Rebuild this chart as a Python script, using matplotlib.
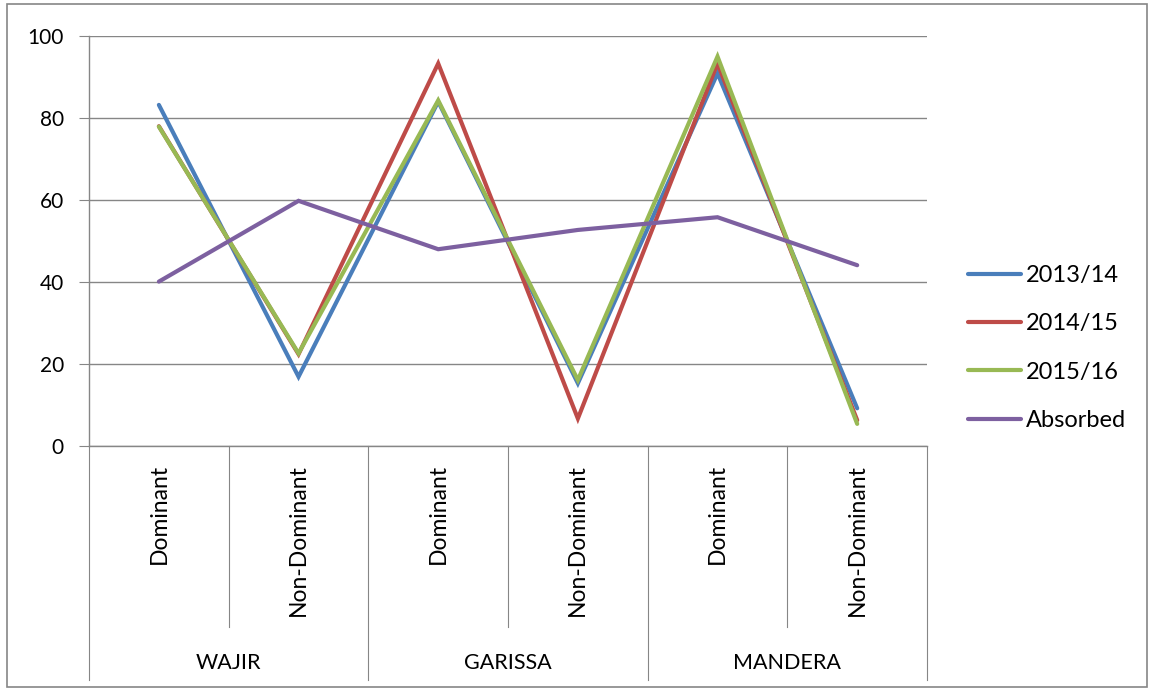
import matplotlib.pyplot as plt
from matplotlib.patches import Rectangle
from matplotlib.transforms import blended_transform_factory

# Counties and household types on the category axis
counties = ['WAJIR', 'GARISSA', 'MANDERA']
types = ['Dominant', 'Non-Dominant']
tick_labels = [t for c in counties for t in types]

# Percentages per season
s_2013 = [83.2, 16.9, 84.0, 15.3, 90.9, 9.2]
s_2014 = [78.0, 22.4, 93.3, 6.7, 93.3, 6.3]
s_2015 = [77.9, 22.6, 84.3, 16.1, 95.0, 5.4]
absorbed = [40.1, 59.8, 48.0, 52.7, 55.8, 44.1]

series = [
    ('2013/14', s_2013, '#4A7EBB'),
    ('2014/15', s_2014, '#BE4B48'),
    ('2015/16', s_2015, '#98B954'),
    ('Absorbed', absorbed, '#7D60A0'),
]

plt.rcParams['font.family'] = ['Lato', 'DejaVu Sans']
grey = '#868686'

fig = plt.figure(figsize=(11.52, 6.9), dpi=100)
ax = fig.add_axes([0.0773, 0.3536, 0.7274, 0.5942])

x = list(range(len(tick_labels)))
for name, vals, col in series:
    ax.plot(x, vals, color=col, lw=3.0, label=name,
            solid_capstyle='round', solid_joinstyle='miter')

ax.set_xlim(-0.5, len(tick_labels) - 0.5)
ax.set_ylim(0, 100)
ax.set_yticks(range(0, 101, 20))
ax.tick_params(axis='y', length=7.2, color=grey, labelsize=15, pad=11)
ax.set_xticks([])
ax.grid(axis='y', color=grey, lw=1)
ax.set_axisbelow(True)
for side in ['top', 'right']:
    ax.spines[side].set_visible(False)
for side in ['left', 'bottom']:
    ax.spines[side].set_color(grey)
    ax.spines[side].set_linewidth(1)

# Two-level category axis drawn below the plot
trans = blended_transform_factory(ax.transData, ax.transAxes)
for i, lab in enumerate(tick_labels):
    ax.text(i, -0.044, lab, rotation=90, ha='center', va='top',
            fontsize=16.5, transform=trans)
for xs in [0.5, 2.5, 4.5]:
    ax.plot([xs, xs], [0, -0.441], color=grey, lw=0.8,
            transform=trans, clip_on=False)
for xs in [-0.5, 1.5, 3.5, 5.5]:
    ax.plot([xs, xs], [0, -0.571], color=grey, lw=0.8,
            transform=trans, clip_on=False)
for j, c in enumerate(counties):
    ax.text(2 * j + 0.5, -0.529, c, ha='center', va='center',
            fontsize=15.5, transform=trans)

fig.legend(loc='center left', bbox_to_anchor=(0.822, 0.4957), frameon=False,
           fontsize=17, handlelength=2.25, labelspacing=1.16, handletextpad=0.2)

fig.patches.append(Rectangle((0.006, 0.004), 0.99, 0.99, transform=fig.transFigure,
                             fill=False, edgecolor=grey, lw=1.2))

fig.savefig('out.png', dpi=100)
